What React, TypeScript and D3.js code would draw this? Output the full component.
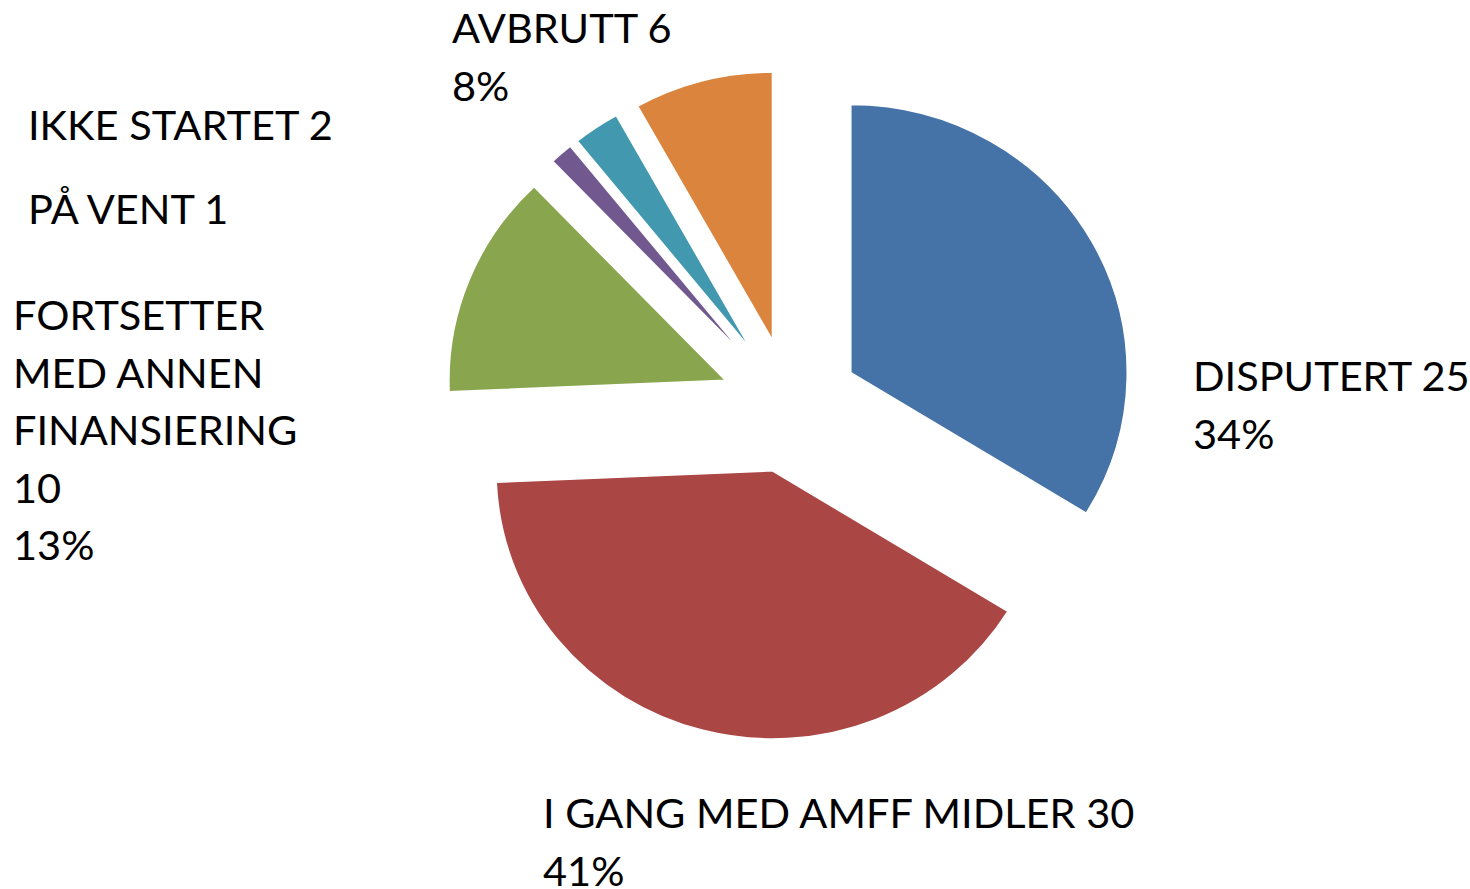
import React, { useEffect, useRef } from "react";
import * as d3 from "d3";

// status categories, clockwise from 12 o'clock
const categories = [
  "DISPUTERT",
  "I GANG MED AMFF MIDLER",
  "FORTSETTER MED ANNEN FINANSIERING",
  "PÅ VENT",
  "IKKE STARTET",
  "AVBRUTT",
];
const counts = [25, 30, 10, 1, 2, 6];
const colors = ["#4572A7", "#AA4643", "#89A54E", "#71588F", "#4198AF", "#DB843D"];

// how each label is broken into lines (text only)
const labelLines = [
  ["DISPUTERT 25", "34%"],
  ["I GANG MED AMFF MIDLER 30", "41%"],
  ["FORTSETTER", "MED ANNEN", "FINANSIERING", "10", "13%"],
  ["PÅ VENT 1"],
  ["IKKE STARTET 2"],
  ["AVBRUTT 6", "8%"],
];

const width = 1470;
const height = 889;
const center = { x: 790, y: 405.5 };
// the source picture is slightly wider than tall
const stretch = { x: 1.024, y: 0.993 };
const radius = 270;
const explode = 68;
const fontSize = 41.5;
const lineGap = 57.5;
// where the first baseline of each label sits
const labelAnchors = [
  { x: 1193, y: 391 },
  { x: 543, y: 828 },
  { x: 13, y: 330 },
  { x: 28, y: 224 },
  { x: 28, y: 140 },
  { x: 452, y: 43 },
];

export default function App() {
  const ref = useRef<SVGSVGElement>(null);

  useEffect(() => {
    const svg = d3.select(ref.current);
    svg.selectAll("*").remove();

    const data = categories.map((name, i) => ({ name, value: counts[i], i }));

    const pie = d3
      .pie<any>()
      .sort(null)
      .value((d) => d.value)
      .startAngle(0)
      .endAngle(2 * Math.PI);
    const arc = d3.arc<any>().innerRadius(0).outerRadius(radius);

    const g = svg
      .append("g")
      .attr("transform", `translate(${center.x},${center.y}) scale(${stretch.x},${stretch.y})`);

    g.selectAll("path")
      .data(pie(data))
      .enter()
      .append("path")
      .attr("d", arc)
      .attr("transform", (d) => {
        const a = (d.startAngle + d.endAngle) / 2;
        return `translate(${Math.sin(a) * explode},${-Math.cos(a) * explode})`;
      })
      .style("fill", (d) => colors[d.data.i])
      .style("stroke", "#ffffff")
      .style("stroke-width", 1.5);

    const labels = svg
      .selectAll("text.lbl")
      .data(data)
      .enter()
      .append("text")
      .attr("class", "lbl")
      .attr("x", (d) => labelAnchors[d.i].x)
      .attr("y", (d) => labelAnchors[d.i].y)
      .style("font-family", "Lato, 'Open Sans', sans-serif")
      .style("font-size", fontSize + "px")
      .style("fill", "#000");

    labels
      .selectAll("tspan")
      .data((d) => labelLines[d.i].map((t, k) => ({ t, k, x: labelAnchors[d.i].x })))
      .enter()
      .append("tspan")
      .attr("x", (d) => d.x)
      .attr("dy", (d) => (d.k === 0 ? 0 : lineGap))
      .text((d) => d.t);
  }, []);

  return (
    <svg
      ref={ref}
      width={width}
      height={height}
      style={{ position: "absolute", left: 0, top: 0, background: "#fff" }}
    />
  );
}
